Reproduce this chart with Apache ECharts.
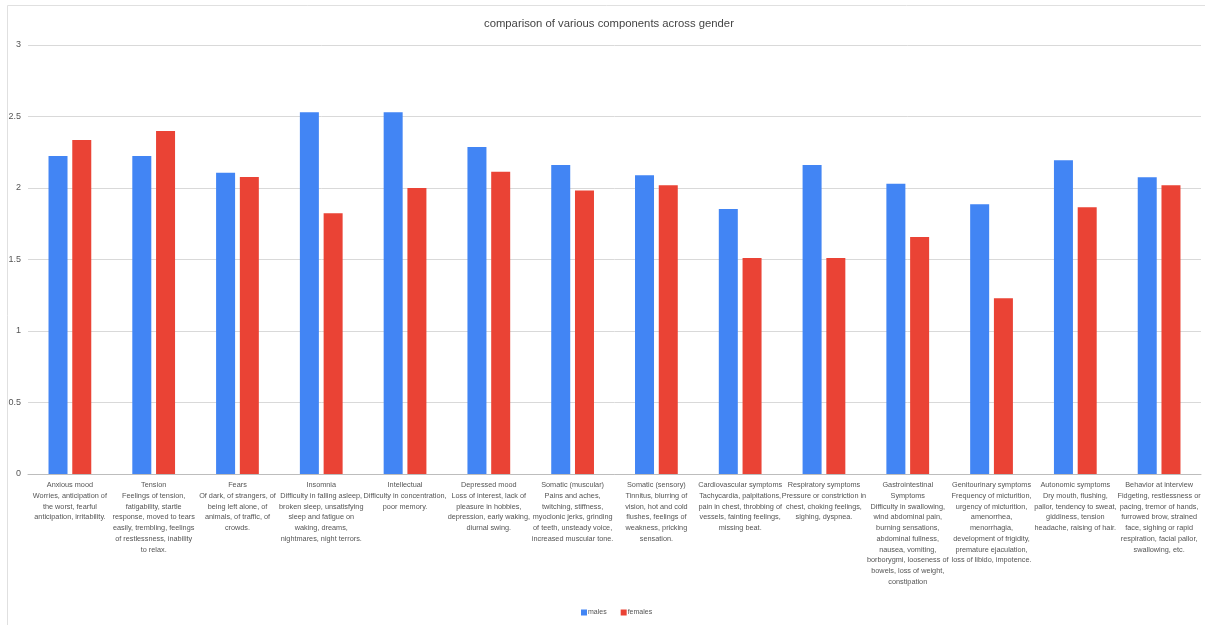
<!DOCTYPE html>
<html>
<head>
<meta charset="utf-8">
<script src="https://cdn.jsdelivr.net/npm/echarts@6/dist/echarts.min.js"></script>
<style>
  html, body { margin: 0; padding: 0; background: #fff; overflow: hidden; }
  #chart { width: 1205px; height: 625px; }
</style>
</head>
<body>
<div id="chart"></div>
<script>
// HAM-A components, mean score by gender
const categories = [
  "Anxious mood\nWorries, anticipation of\nthe worst, fearful\nanticipation, irritability.",
  "Tension\nFeelings of tension,\nfatigability, startle\nresponse, moved to tears\neasily, trembling, feelings\nof restlessness, inability\nto relax.",
  "Fears\nOf dark, of strangers, of\nbeing left alone, of\nanimals, of traffic, of\ncrowds.",
  "Insomnia\nDifficulty in falling asleep,\nbroken sleep, unsatisfying\nsleep and fatigue on\nwaking, dreams,\nnightmares, night terrors.",
  "Intellectual\nDifficulty in concentration,\npoor memory.",
  "Depressed mood\nLoss of interest, lack of\npleasure in hobbies,\ndepression, early waking,\ndiurnal swing.",
  "Somatic (muscular)\nPains and aches,\ntwitching, stiffness,\nmyoclonic jerks, grinding\nof teeth, unsteady voice,\nincreased muscular tone.",
  "Somatic (sensory)\nTinnitus, blurring of\nvision, hot and cold\nflushes, feelings of\nweakness, pricking\nsensation.",
  "Cardiovascular symptoms\nTachycardia, palpitations,\npain in chest, throbbing of\nvessels, fainting feelings,\nmissing beat.",
  "Respiratory symptoms\nPressure or constriction in\nchest, choking feelings,\nsighing, dyspnea.",
  "Gastrointestinal\nSymptoms\nDifficulty in swallowing,\nwind abdominal pain,\nburning sensations,\nabdominal fullness,\nnausea, vomiting,\nborborygmi, looseness of\nbowels, loss of weight,\nconstipation",
  "Genitourinary symptoms\nFrequency of micturition,\nurgency of micturition,\namenorrhea,\nmenorrhagia,\ndevelopment of frigidity,\npremature ejaculation,\nloss of libido, impotence.",
  "Autonomic symptoms\nDry mouth, flushing,\npallor, tendency to sweat,\ngiddiness, tension\nheadache, raising of hair.",
  "Behavior at interview\nFidgeting, restlessness or\npacing, tremor of hands,\nfurrowed brow, strained\nface, sighing or rapid\nrespiration, facial pallor,\nswallowing, etc."
];

const males   = [2.224, 2.224, 2.107, 2.529, 2.529, 2.287, 2.161, 2.089, 1.853, 2.161, 2.030, 1.886, 2.194, 2.075];
const females = [2.336, 2.399, 2.077, 1.823, 2.000, 2.114, 1.983, 2.019, 1.510, 1.510, 1.657, 1.229, 1.865, 2.019];

const seriesNames = ["males", "females"];
const yTicks = { min: 0, max: 3, interval: 0.5 };

const FONT = "'Liberation Sans', Arial, sans-serif";

const chart = echarts.init(document.getElementById('chart'), null, { renderer: 'canvas' });

chart.setOption({
  backgroundColor: '#ffffff',
  animation: false,
  textStyle: { fontFamily: FONT },
  graphic: [{
    type: 'rect',
    shape: { x: 7.5, y: 5.5, width: 1210, height: 630 },
    style: { fill: 'none', stroke: '#e0e0e0', lineWidth: 1 },
    silent: true,
    z: -1
  }],
  title: {
    text: 'comparison of various components across gender',
    left: 479,
    top: 13,
    textStyle: { fontFamily: FONT, fontSize: 11.3, fontWeight: 'normal', color: '#444' }
  },
  legend: {
    data: seriesNames,
    bottom: 4,
    left: 576,
    itemWidth: 6,
    itemHeight: 6,
    itemGap: 14,
    icon: 'rect',
    textStyle: { fontFamily: FONT, fontSize: 7, color: '#555', padding: [0, 0, 0, -4] }
  },
  grid: { left: 28, right: 4, top: 45, bottom: 151, containLabel: false },
  xAxis: {
    type: 'category',
    data: categories,
    axisTick: { show: false },
    axisLine: { show: true, lineStyle: { color: '#bdbdbd' } },
    axisLabel: {
      interval: 0,
      margin: 6,
      fontFamily: FONT,
      fontSize: 7.3,
      lineHeight: 10.7,
      color: '#555',
      align: 'center',
      verticalAlign: 'top'
    }
  },
  yAxis: {
    type: 'value',
    min: yTicks.min,
    max: yTicks.max,
    interval: yTicks.interval,
    axisLine: { show: false },
    axisTick: { show: false },
    splitLine: { lineStyle: { color: '#d9d9d9' } },
    axisLabel: { fontFamily: FONT, fontSize: 9, color: '#555', margin: 7 }
  },
  series: [
    {
      name: seriesNames[0],
      type: 'bar',
      data: males,
      barWidth: 19,
      barGap: '25%',
      itemStyle: { color: '#4285f4' }
    },
    {
      name: seriesNames[1],
      type: 'bar',
      data: females,
      barWidth: 19,
      itemStyle: { color: '#ea4335' }
    }
  ]
});
</script>
</body>
</html>
